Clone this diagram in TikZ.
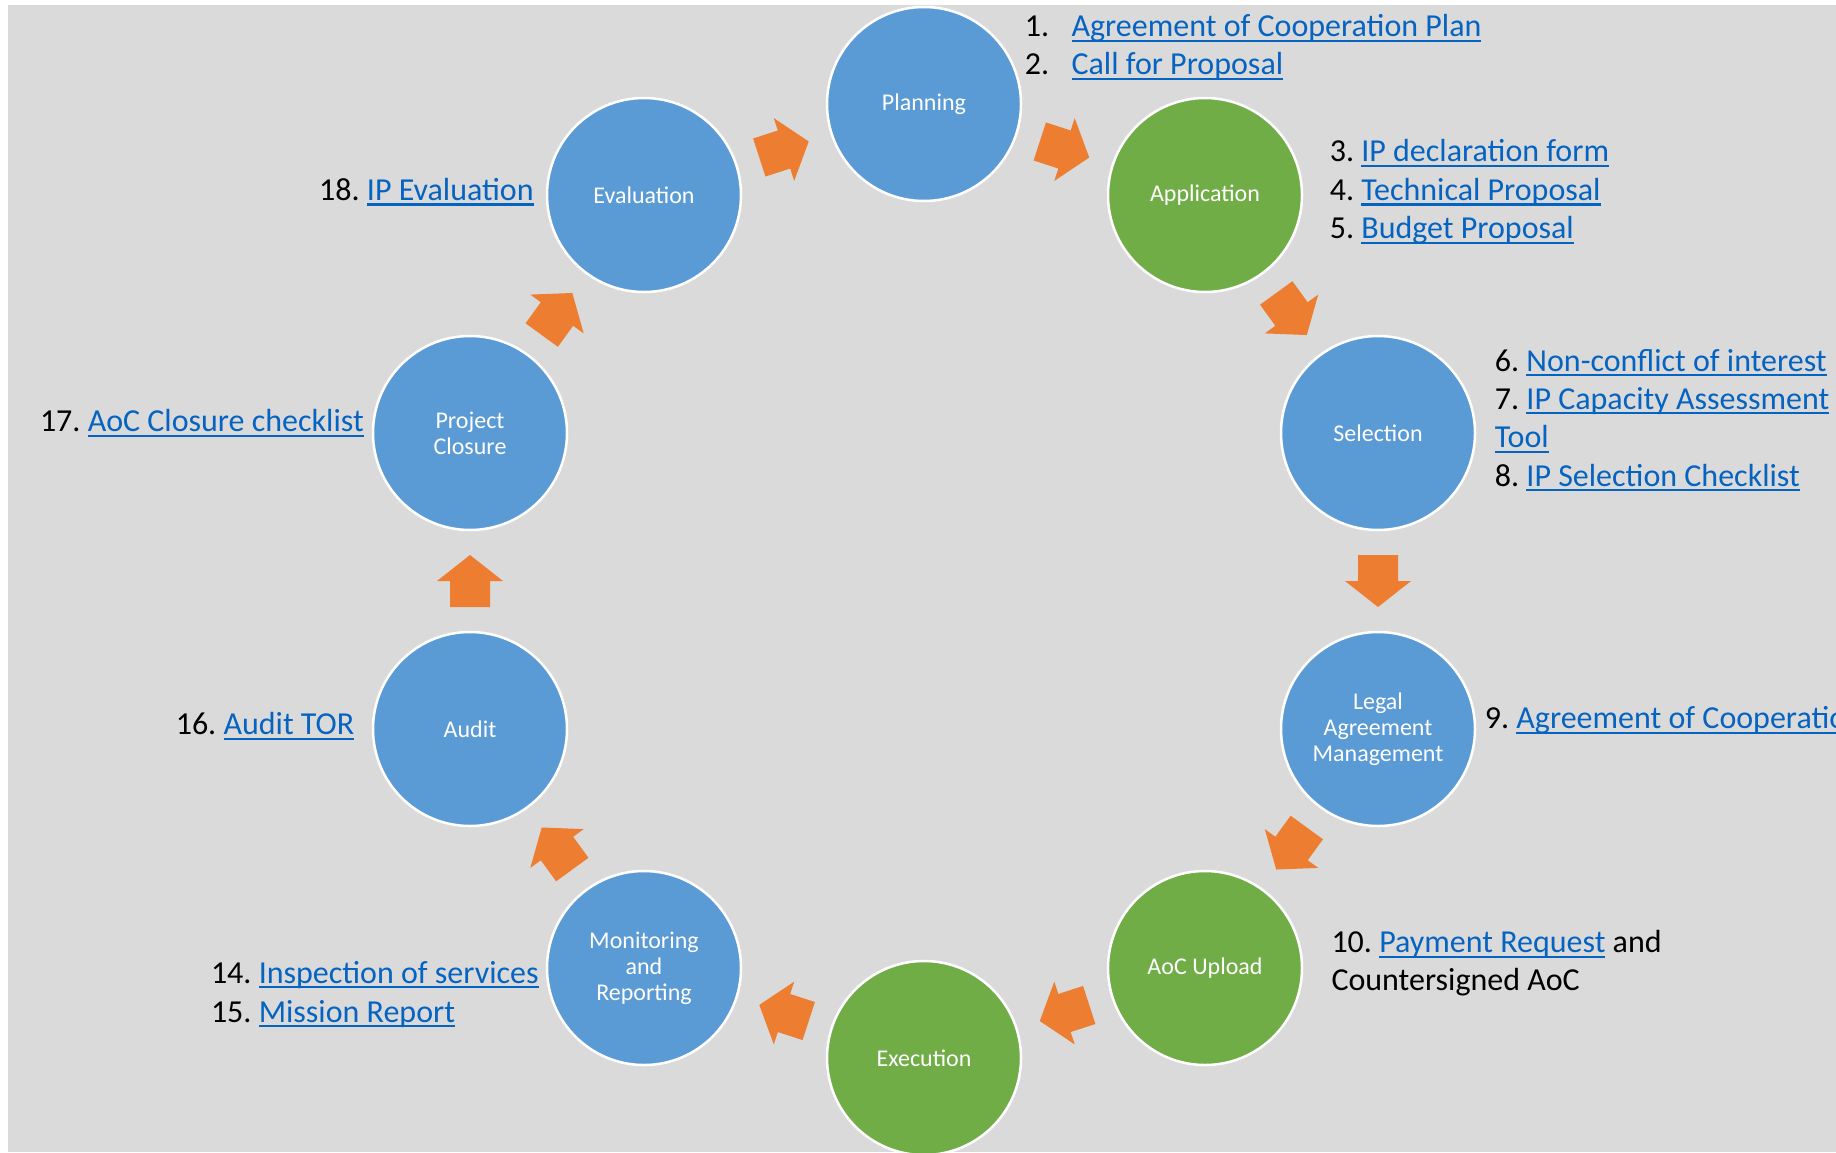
\documentclass[tikz,border=0pt]{standalone}
\usepackage{fontspec}
\setmainfont{Carlito}
\usetikzlibrary{calc}
\definecolor{bggray}{RGB}{218,218,218}
\definecolor{stageblue}{RGB}{91,155,213}
\definecolor{stagegreen}{RGB}{112,173,71}
\definecolor{arroworange}{RGB}{237,125,49}
\definecolor{linkblue}{RGB}{5,99,193}
\newsavebox{\lnkbox}
\newcommand{\lnk}[1]{\textcolor{linkblue}{\sbox{\lnkbox}{#1}\rlap{\rule[-5.4pt]{\wd\lnkbox}{2.2pt}}\usebox{\lnkbox}}}
\frenchspacing
\begin{document}
\begin{tikzpicture}[x=1pt,y=-1pt,
  stage/.style={circle, draw=white, line width=2.5pt, minimum size=194pt, inner sep=0pt,
    text=white, align=center, font=\fontsize{24}{26}\selectfont},
  bluestage/.style={stage, fill=stageblue},
  greenstage/.style={stage, fill=stagegreen},
  doc/.style={anchor=base west, inner sep=0pt, font=\fontsize{32}{38.5}\selectfont, text=black},
  flowarrow/.style={fill=arroworange}]

\fill[white] (0,0) rectangle (1836,1152);
\fill[bggray] (8,5) rectangle (1836,1152);
\useasboundingbox (0,0) rectangle (1836,1152);

% stages
\node[bluestage]  (plan)  at (924,104)  {Planning};
\node[greenstage] (appl)  at (1205,195) {Application};
\node[bluestage]  (sel)   at (1378,433) {Selection};
\node[bluestage]  (legal) at (1378,729) {Legal\\Agreement\\Management};
\node[greenstage] (aoc)   at (1205,968) {AoC Upload};
\node[greenstage] (exec)  at (924,1058) {Execution};
\node[bluestage]  (mon)   at (644,968)  {Monitoring\\and\\Reporting};
\node[bluestage]  (audit) at (470,729)  {Audit};
\node[bluestage]  (close) at (470,433)  {Project\\Closure};
\node[bluestage]  (eval)  at (644,195)  {Evaluation};

% block arrows between consecutive stages
\foreach \a/\b/\r in {plan/appl/-18, appl/sel/-54, sel/legal/-90, legal/aoc/-126,
    aoc/exec/-162, exec/mon/-198, mon/audit/-234, audit/close/-270,
    close/eval/-306, eval/plan/-342}{
  \fill[flowarrow, shift={($(\a.center)!0.5!(\b.center)$)}, rotate=\r]
    (-26,-20) -- (0,-20) -- (0,-33) -- (26,0) -- (0,33) -- (0,20) -- (-26,20) -- cycle;
}

% documents
\node[doc] (t1)  at (1024.6,36.7) {\makebox[46.8pt][l]{1.}\lnk{Agreement of Cooperation Plan}};
\node[doc] (t2)  at (1024.6,74.9) {\makebox[46.8pt][l]{2.}\lnk{Call for Proposal}};
\node[doc] (t3)  at (1329.6,161.6) {3. \lnk{IP declaration form}};
\node[doc] (t4)  at (1329.6,200.2) {4. \lnk{Technical Proposal}};
\node[doc] (t5)  at (1329.6,238.8) {5. \lnk{Budget Proposal}};
\node[doc] (t6)  at (1494.7,371) {6. \lnk{Non-conflict of interest}};
\node[doc] (t7)  at (1494.7,409) {7. \lnk{IP Capacity Assessment}};
\node[doc] (t7b) at (1494.7,447.5) {\lnk{Tool}};
\node[doc] (t8)  at (1494.7,486) {8. \lnk{IP Selection Checklist}};
\node[doc] (t9)  at (1484.7,728.5) {9. \lnk{Agreement of Cooperation}};
\node[doc] (t10) at (1331.3,952.6) {10. \lnk{Payment Request} and};
\node[doc] (t10b) at (1331.3,990.4) {Countersigned AoC};
\node[doc] (t14) at (210.8,983) {14. \lnk{Inspection of services}};
\node[doc] (t15) at (210.8,1022) {15. \lnk{Mission Report}};
\node[doc] (t16) at (175.6,734.7) {16. \lnk{Audit TOR}};
\node[doc] (t17) at (39.8,431.6) {17. \lnk{AoC Closure checklist}};
\node[doc] (t18) at (319,200.2) {18. \lnk{IP Evaluation}};
\end{tikzpicture}
\end{document}
